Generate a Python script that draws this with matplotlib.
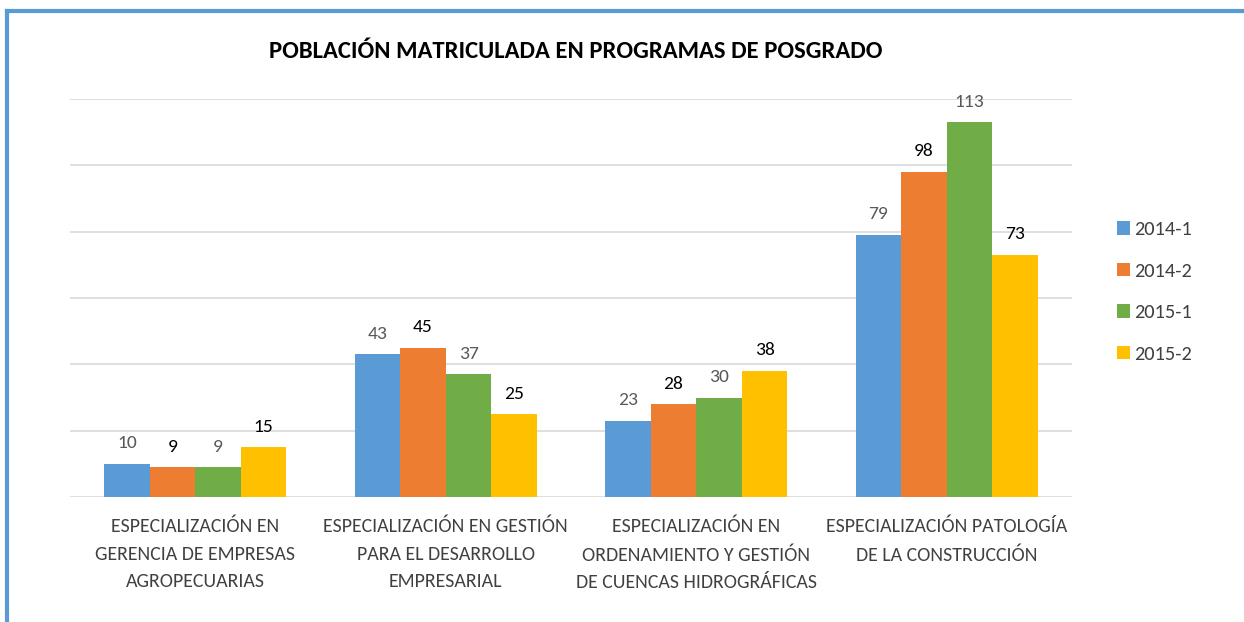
import numpy as np
import matplotlib
matplotlib.use("Agg")
import matplotlib.pyplot as plt
from matplotlib.lines import Line2D
from matplotlib.patches import Patch

plt.rcParams['font.family'] = ['Carlito', 'DejaVu Sans']

# Data
categories = [
    "ESPECIALIZACIÓN EN\nGERENCIA DE EMPRESAS\nAGROPECUARIAS",
    "ESPECIALIZACIÓN EN GESTIÓN\nPARA EL DESARROLLO\nEMPRESARIAL",
    "ESPECIALIZACIÓN EN\nORDENAMIENTO Y GESTIÓN\nDE CUENCAS HIDROGRÁFICAS",
    "ESPECIALIZACIÓN PATOLOGÍA\nDE LA CONSTRUCCIÓN",
]
periods = ["2014-1", "2014-2", "2015-1", "2015-2"]
v_2014_1 = [10, 43, 23, 79]
v_2014_2 = [9, 45, 28, 98]
v_2015_1 = [9, 37, 30, 113]
v_2015_2 = [15, 25, 38, 73]
series = [v_2014_1, v_2014_2, v_2015_1, v_2015_2]

colors = ["#5B9BD5", "#ED7D31", "#70AD47", "#FFC000"]
label_colors = ["#595959", "#000000", "#595959", "#000000"]

W, H = 1244, 622
fig = plt.figure(figsize=(W / 100, H / 100), dpi=100)
ax = fig.add_axes([70 / W, 1 - 497 / H, (1072 - 70) / W, (497 - 99) / H])

x = np.arange(len(categories))
bw = 0.182
for i, (vals, c) in enumerate(zip(series, colors)):
    pos = x + (i - 1.5) * bw
    bars = ax.bar(pos, vals, width=bw, color=c, zorder=3)
    ax.bar_label(bars, labels=[str(v) for v in vals], padding=9,
                 fontsize=14, color=label_colors[i])

ax.set_xlim(-0.5, len(categories) - 0.5)
ax.set_ylim(0, 120)
ax.set_yticks(np.arange(0, 121, 20))
ax.yaxis.grid(True, color="#D9D9D9", linewidth=1.2, zorder=0)
ax.tick_params(axis="y", left=False, labelleft=False)
ax.tick_params(axis="x", length=0, pad=15)
ax.set_xticks(x)
ax.set_xticklabels(categories, fontsize=14.3, color="#404040", linespacing=1.75)
for s in ax.spines.values():
    s.set_visible(False)

fig.text(576 / W, 1 - 52 / H, "POBLACIÓN MATRICULADA EN PROGRAMAS DE POSGRADO",
         ha="center", va="center", fontsize=17.7, fontweight="bold", color="#000000")

handles = [Patch(facecolor=c, edgecolor="none") for c in colors]
fig.legend(handles, periods, loc="center left", bbox_to_anchor=(1099 / W, 1 - 292 / H),
           frameon=False, fontsize=14.7, labelcolor="#404040",
           handlelength=0.62, handleheight=0.62, handletextpad=0.2, labelspacing=1.2)

# blue frame on top and left
fig.add_artist(Line2D([6.5 / W, 1], [1 - 10.5 / H, 1 - 10.5 / H], color="#5B9BD5",
                      linewidth=3, transform=fig.transFigure))
fig.add_artist(Line2D([6.5 / W, 6.5 / W], [0, 1 - 10.5 / H], color="#5B9BD5",
                      linewidth=3, transform=fig.transFigure))

fig.savefig("out.png", dpi=100)
